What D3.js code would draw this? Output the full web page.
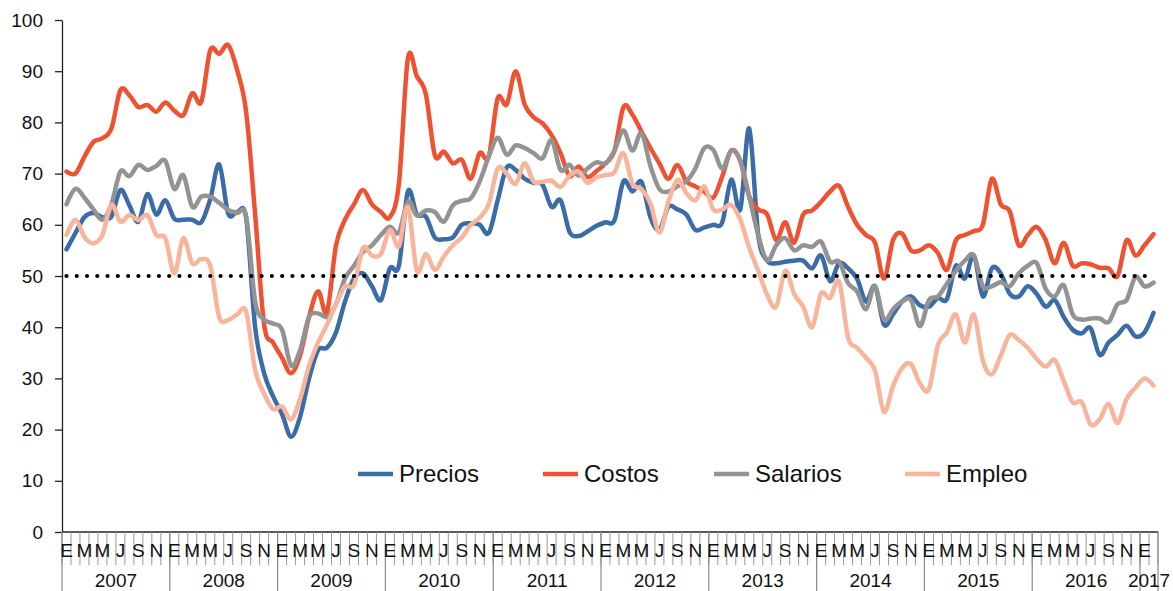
<!DOCTYPE html>
<html>
<head>
<meta charset="utf-8">
<script src="https://cdn.jsdelivr.net/npm/d3@7"></script>
<style>
  html, body { margin: 0; padding: 0; background: #fff; }
  svg { display: block; font-family: "Liberation Sans", Arial, sans-serif; }
</style>
</head>
<body>
<svg id="chart" width="1173" height="591"></svg>
<script>
// ---------------- DATA ----------------
const years = [2007, 2008, 2009, 2010, 2011, 2012, 2013, 2014, 2015, 2016, 2017];
const monthsInYear = [12, 12, 12, 12, 12, 12, 12, 12, 12, 12, 2];
const monthInitials = ["E", "F", "M", "A", "M", "J", "J", "A", "S", "O", "N", "D"];
const yTicks = [0, 10, 20, 30, 40, 50, 60, 70, 80, 90, 100];
const threshold = 50;
const seriesNames = ["Precios", "Costos", "Salarios", "Empleo"];

const precios = [
  55.2, 58.4, 61.5, 62.3, 61.5, 61.6, 66.8, 63.8, 60.6, 66.0, 62.0, 64.8,
  61.2, 61.0, 61.0, 60.5, 65.0, 71.8, 62.2, 62.5, 61.3, 40.0, 31.0, 26.5,
  23.0, 18.6, 22.5, 30.0, 35.5, 36.0, 39.0, 45.0, 49.5, 50.5, 48.0, 45.3,
  51.5, 52.0, 66.5, 62.0, 61.6, 57.5, 57.2, 57.5, 60.0, 60.3, 60.0, 58.4,
  64.8, 71.2, 70.7, 69.0, 68.2, 67.8, 63.5, 64.8, 58.6, 57.8, 58.7, 59.8,
  60.5, 60.9, 68.5, 66.5, 68.4, 61.5, 59.0, 63.5, 63.0, 62.0, 59.0, 59.5,
  60.0, 60.5, 68.8, 63.0, 78.8, 58.0, 53.0, 52.5, 52.8, 53.0, 53.0, 51.5,
  54.0, 49.0, 52.5, 51.5, 49.5, 45.0, 48.0, 40.5, 42.5, 45.0, 46.0, 44.3,
  44.0, 45.7, 45.5, 52.0, 49.5, 54.0, 46.0, 51.5, 50.5, 46.5, 46.0, 48.0,
  46.5, 44.0, 45.3, 42.0, 39.5, 38.8, 39.8, 34.6, 37.0, 38.5, 40.3, 38.2,
  39.0, 42.8
];
const costos = [
  70.4, 70.0, 73.3, 76.2, 76.9, 78.8, 86.3, 85.3, 83.0, 83.4, 82.1, 83.9,
  82.3, 81.4, 85.7, 84.0, 94.1, 93.4, 95.1, 90.2, 82.0, 62.0, 40.5, 37.0,
  34.0, 31.0, 34.5, 42.0, 47.0, 43.0, 56.0, 61.0, 64.0, 66.8, 64.0, 62.5,
  61.5, 68.0, 92.5, 89.0, 85.5, 73.6, 74.3, 72.0, 72.7, 69.0, 74.0, 73.3,
  84.7, 83.5, 90.0, 83.5, 81.0, 79.8, 77.5, 74.0, 69.5, 71.4, 69.3, 70.5,
  72.0, 74.5, 83.0, 81.5, 78.2, 75.0, 72.0, 69.0, 71.7, 68.5, 67.5, 66.5,
  65.3, 69.5, 74.5, 72.5, 65.5, 63.0, 62.0, 57.0, 60.5, 56.5, 62.0, 62.8,
  64.5, 66.5, 67.6, 63.5, 60.0, 58.0, 56.5, 49.5, 57.0, 58.3, 55.0, 55.0,
  56.0, 54.5, 51.2, 57.0, 58.0, 58.8, 60.0, 69.0, 64.0, 62.6, 56.0, 58.0,
  59.6, 57.0, 52.5, 56.5, 52.0, 52.5, 52.3, 51.6, 51.5, 50.0, 57.0, 54.0,
  56.0, 58.2
];
const salarios = [
  64.0, 67.0, 65.3, 63.0, 61.0, 64.0, 70.4, 69.5, 71.7, 70.7, 71.5, 72.5,
  67.0, 69.7, 63.5, 65.5, 65.5, 64.3, 62.9, 62.3, 61.6, 45.0, 41.5, 40.7,
  39.5, 32.5, 35.5, 42.0, 42.7, 42.0, 44.5, 49.5, 52.0, 54.7, 56.0, 58.0,
  59.6, 58.5, 64.5, 61.8, 62.8, 62.5, 60.6, 63.8, 64.7, 65.2, 68.5, 73.3,
  77.0, 73.7, 75.5, 75.0, 74.0, 73.0, 76.5, 70.7, 71.7, 69.6, 71.0, 72.2,
  72.0, 74.5, 78.4, 74.5, 77.9, 71.5, 67.0, 66.5, 67.5, 68.5, 71.0, 75.0,
  74.6, 71.0, 74.5, 72.5, 65.5, 58.0, 53.0, 56.0, 57.4, 55.0, 56.0, 55.7,
  56.7, 52.8, 52.8, 48.6, 47.0, 43.5, 48.0, 41.5, 43.5, 45.0, 45.3, 40.2,
  45.3, 46.0, 48.5, 51.0, 53.0, 54.0, 48.0, 48.0, 48.8, 48.0, 50.5, 52.0,
  52.5, 47.5, 46.0, 48.2, 42.5, 41.5, 41.7, 41.7, 41.0, 44.5, 45.3, 49.8,
  48.0, 48.7
];
const empleo = [
  58.0, 61.0, 57.6, 56.4, 58.0, 63.9, 60.6, 61.9, 60.9, 61.9, 58.0, 57.4,
  50.5, 57.4, 52.5, 53.3, 52.0, 42.0, 41.4, 42.5, 43.0, 31.6, 27.0, 24.0,
  24.5, 22.0, 26.0, 32.5, 37.0, 40.5, 44.5, 48.0, 48.3, 55.5, 54.0, 54.3,
  59.0, 55.8, 63.5, 51.0, 54.3, 51.2, 53.8, 56.0, 57.5, 60.0, 61.4, 64.0,
  71.0, 70.0, 68.0, 72.0, 68.4, 68.4, 68.6, 67.4, 69.6, 70.4, 68.2, 69.3,
  69.7, 70.3, 74.0, 68.0, 67.0, 64.2, 58.5, 64.5, 68.8, 66.2, 64.8, 67.5,
  63.0, 63.0, 63.9, 61.0, 55.5, 51.0, 46.3, 44.0, 51.0, 46.5, 44.0, 40.0,
  46.6, 45.7, 48.9, 38.0, 36.0, 34.0, 31.5, 23.5, 28.5, 32.0, 32.8, 29.0,
  27.9, 36.5, 39.0, 42.5, 37.0, 42.5, 33.5, 30.8, 34.5, 38.5, 37.5, 36.0,
  33.8, 32.3, 33.6, 29.5, 25.3, 25.4, 21.0, 22.0, 25.0, 21.3, 26.0, 28.2,
  30.0, 28.6
];
const seriesColors = ["#3A6CA8", "#EF5230", "#939393", "#F9B59C"];

// ---------------- BUILD CATEGORIES ----------------
const categories = [];
years.forEach((yr, yi) => {
  for (let m = 0; m < monthsInYear[yi]; m++) {
    categories.push({ key: yr + "-" + m, year: yr, month: m });
  }
});
const seriesData = [precios, costos, salarios, empleo];

// ---------------- LAYOUT ----------------
const svg = d3.select("#chart");
const plotLeft = 62, plotRight = 1158, plotTop = 20, plotBottom = 532;

const x = d3.scaleBand()
  .domain(categories.map(d => d.key))
  .range([plotLeft, plotRight])
  .paddingInner(0).paddingOuter(0);
const bw = x.bandwidth();
const cx = i => x(categories[i].key) + bw / 2;

const y = d3.scaleLinear().domain([0, 100]).range([plotBottom, plotTop]);

// Y axis
const yAxis = svg.append("g")
  .attr("transform", `translate(${plotLeft},0)`)
  .call(d3.axisLeft(y).tickValues(yTicks).tickSize(7).tickSizeOuter(0).tickPadding(12));
yAxis.select(".domain").attr("stroke", "#222").attr("stroke-width", 1.3);
yAxis.selectAll(".tick line").attr("stroke", "#222").attr("stroke-width", 1.3);
yAxis.selectAll(".tick text")
  .attr("font-size", 19).attr("fill", "#111")
  .attr("font-family", "'Liberation Sans', Arial, sans-serif");

// X axis baseline
svg.append("line")
  .attr("x1", plotLeft).attr("x2", plotRight)
  .attr("y1", y(0)).attr("y2", y(0))
  .attr("stroke", "#222").attr("stroke-width", 1.3);

// Month tick separators
const boundaries = categories.map(d => x(d.key)).concat([plotRight]);
svg.append("g").selectAll("line")
  .data(boundaries)
  .join("line")
  .attr("x1", d => d).attr("x2", d => d)
  .attr("y1", y(0)).attr("y2", y(0) + 33)
  .attr("stroke", "#9a9a9a").attr("stroke-width", 1);

// Year separators
const yearStarts = [];
years.forEach(yr => {
  const first = categories.find(c => c.year === yr);
  yearStarts.push(x(first.key));
});
yearStarts.push(plotRight);
svg.append("g").selectAll("line")
  .data(yearStarts)
  .join("line")
  .attr("x1", d => d).attr("x2", d => d)
  .attr("y1", y(0)).attr("y2", 591)
  .attr("stroke", "#8a8a8a").attr("stroke-width", 1.2);

// Month labels (every other month)
svg.append("g").selectAll("text")
  .data(categories.filter(c => c.month % 2 === 0))
  .join("text")
  .attr("x", d => x(d.key) + bw / 2)
  .attr("y", 557)
  .attr("text-anchor", "middle")
  .attr("font-size", 19)
  .attr("fill", "#111")
  .text(d => monthInitials[d.month]);

// Year labels
svg.append("g").selectAll("text")
  .data(years)
  .join("text")
  .attr("x", (d, i) => (yearStarts[i] + yearStarts[i + 1]) / 2)
  .attr("y", 587)
  .attr("text-anchor", "middle")
  .attr("font-size", 19)
  .attr("fill", "#111")
  .text(d => d);

// Lines
const line = d3.line()
  .x((d, i) => cx(i))
  .y(d => y(d))
  .curve(d3.curveCardinal.tension(0));

svg.append("g").selectAll("path")
  .data(seriesData)
  .join("path")
  .attr("d", d => line(d))
  .attr("fill", "none")
  .attr("stroke", (d, i) => seriesColors[i])
  .attr("stroke-width", 4.5)
  .attr("stroke-linejoin", "round")
  .attr("stroke-linecap", "round");

// Threshold dotted line
svg.append("line")
  .attr("x1", cx(0)).attr("x2", cx(categories.length - 1))
  .attr("y1", y(threshold)).attr("y2", y(threshold))
  .attr("stroke", "#000")
  .attr("stroke-width", 4.2)
  .attr("stroke-linecap", "round")
  .attr("stroke-dasharray", "0 10.27");

// Legend
const legendX = [358, 543, 714, 905];
const legend = svg.append("g");
seriesNames.forEach((name, i) => {
  legend.append("line")
    .attr("x1", legendX[i]).attr("x2", legendX[i] + 35)
    .attr("y1", 474).attr("y2", 474)
    .attr("stroke", seriesColors[i]).attr("stroke-width", 4.5);
  legend.append("text")
    .attr("x", legendX[i] + 41)
    .attr("y", 482)
    .attr("font-size", 24)
    .attr("fill", "#111")
    .text(name);
});
</script>
</body>
</html>
